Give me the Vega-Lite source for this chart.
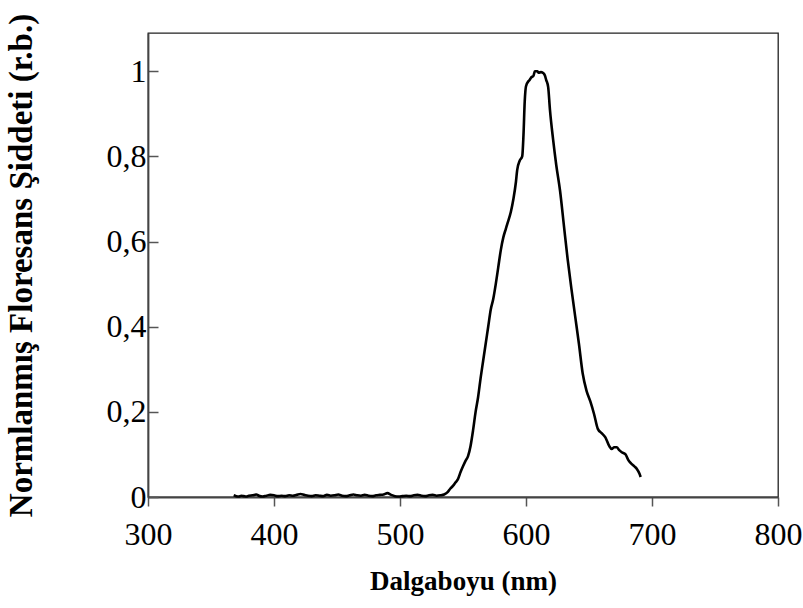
{
  "$schema": "https://vega.github.io/schema/vega-lite/v6.json",
  "width": 630,
  "height": 464,
  "autosize": {"type": "none"},
  "padding": {"left": 148, "top": 33, "right": 25, "bottom": 111},
  "background": "white",
  "config": {
    "view": {"stroke": "#222", "strokeWidth": 1.3},
    "font": "Liberation Serif",
    "axis": {
      "grid": false,
      "domainColor": "#444",
      "domainWidth": 1.8,
      "tickColor": "#555",
      "tickWidth": 1.5,
      "labelFont": "Liberation Serif",
      "labelFontSize": 32,
      "labelColor": "black",
      "titleFont": "Liberation Serif",
      "titleFontWeight": "bold",
      "titleColor": "black"
    }
  },
  "data": {"values": [
    {"nm": 368, "v": 0.004}, {"nm": 370, "v": 0.002}, {"nm": 372, "v": 0.001}, {"nm": 374, "v": 0.003},
    {"nm": 376, "v": 0.002}, {"nm": 378, "v": 0.001}, {"nm": 380, "v": 0.003}, {"nm": 383, "v": 0.004},
    {"nm": 386, "v": 0.006}, {"nm": 388, "v": 0.003}, {"nm": 391, "v": 0.001}, {"nm": 394, "v": 0.003},
    {"nm": 397, "v": 0.005}, {"nm": 400, "v": 0.004}, {"nm": 403, "v": 0.002}, {"nm": 406, "v": 0.003},
    {"nm": 409, "v": 0.002}, {"nm": 412, "v": 0.004}, {"nm": 415, "v": 0.003}, {"nm": 418, "v": 0.005},
    {"nm": 421, "v": 0.007}, {"nm": 424, "v": 0.005}, {"nm": 427, "v": 0.003}, {"nm": 430, "v": 0.002},
    {"nm": 433, "v": 0.004}, {"nm": 436, "v": 0.003}, {"nm": 439, "v": 0.002}, {"nm": 442, "v": 0.005},
    {"nm": 445, "v": 0.003}, {"nm": 448, "v": 0.004}, {"nm": 451, "v": 0.006}, {"nm": 454, "v": 0.003},
    {"nm": 457, "v": 0.002}, {"nm": 460, "v": 0.004}, {"nm": 463, "v": 0.006}, {"nm": 466, "v": 0.004},
    {"nm": 469, "v": 0.003}, {"nm": 472, "v": 0.005}, {"nm": 475, "v": 0.003}, {"nm": 478, "v": 0.002},
    {"nm": 481, "v": 0.004}, {"nm": 484, "v": 0.005}, {"nm": 487, "v": 0.006}, {"nm": 490, "v": 0.009},
    {"nm": 493, "v": 0.005}, {"nm": 496, "v": 0.002}, {"nm": 499, "v": 0.001}, {"nm": 502, "v": 0.002},
    {"nm": 505, "v": 0.003}, {"nm": 508, "v": 0.002}, {"nm": 511, "v": 0.004}, {"nm": 514, "v": 0.005},
    {"nm": 517, "v": 0.003}, {"nm": 520, "v": 0.002}, {"nm": 523, "v": 0.004}, {"nm": 526, "v": 0.005},
    {"nm": 529, "v": 0.003}, {"nm": 532, "v": 0.004}, {"nm": 535, "v": 0.006}, {"nm": 538, "v": 0.012},
    {"nm": 540, "v": 0.02}, {"nm": 542, "v": 0.026}, {"nm": 544, "v": 0.034}, {"nm": 546, "v": 0.042},
    {"nm": 548, "v": 0.058}, {"nm": 550, "v": 0.072}, {"nm": 552, "v": 0.085}, {"nm": 554, "v": 0.096},
    {"nm": 556, "v": 0.12}, {"nm": 558, "v": 0.157}, {"nm": 560, "v": 0.2}, {"nm": 562, "v": 0.235},
    {"nm": 564, "v": 0.28}, {"nm": 566, "v": 0.32}, {"nm": 568, "v": 0.36}, {"nm": 570, "v": 0.4},
    {"nm": 572, "v": 0.44}, {"nm": 574, "v": 0.465}, {"nm": 576, "v": 0.5}, {"nm": 578, "v": 0.54},
    {"nm": 580, "v": 0.58}, {"nm": 582, "v": 0.61}, {"nm": 584, "v": 0.63}, {"nm": 585, "v": 0.64},
    {"nm": 588, "v": 0.67}, {"nm": 590, "v": 0.7}, {"nm": 592, "v": 0.74}, {"nm": 593, "v": 0.768},
    {"nm": 595, "v": 0.79}, {"nm": 597, "v": 0.8}, {"nm": 598, "v": 0.85}, {"nm": 599, "v": 0.93},
    {"nm": 600, "v": 0.965}, {"nm": 602, "v": 0.977}, {"nm": 603, "v": 0.98}, {"nm": 604, "v": 0.985},
    {"nm": 606, "v": 0.99}, {"nm": 607, "v": 1.0}, {"nm": 609, "v": 1.0}, {"nm": 610, "v": 0.997},
    {"nm": 612, "v": 0.998}, {"nm": 614, "v": 0.995}, {"nm": 615, "v": 0.99}, {"nm": 616, "v": 0.98},
    {"nm": 617.6, "v": 0.963}, {"nm": 619, "v": 0.91}, {"nm": 621.5, "v": 0.84}, {"nm": 624, "v": 0.78},
    {"nm": 627, "v": 0.72}, {"nm": 630, "v": 0.64}, {"nm": 633, "v": 0.56}, {"nm": 636, "v": 0.49},
    {"nm": 639, "v": 0.425}, {"nm": 642, "v": 0.36}, {"nm": 645, "v": 0.29}, {"nm": 648, "v": 0.25},
    {"nm": 651, "v": 0.225}, {"nm": 654, "v": 0.195}, {"nm": 657, "v": 0.16}, {"nm": 660, "v": 0.15},
    {"nm": 663, "v": 0.14}, {"nm": 666, "v": 0.12}, {"nm": 668, "v": 0.113}, {"nm": 670, "v": 0.117},
    {"nm": 672, "v": 0.117}, {"nm": 674, "v": 0.11}, {"nm": 676, "v": 0.105}, {"nm": 679, "v": 0.1},
    {"nm": 681, "v": 0.088}, {"nm": 683, "v": 0.08}, {"nm": 686, "v": 0.072}, {"nm": 688, "v": 0.066},
    {"nm": 690, "v": 0.055}, {"nm": 691, "v": 0.047}
  ]},
  "mark": {"type": "line", "color": "black", "strokeWidth": 2.6, "interpolate": "monotone"},
  "encoding": {
    "x": {
      "field": "nm", "type": "quantitative",
      "scale": {"domain": [300, 800], "nice": false, "zero": false},
      "axis": {
        "title": "Dalgaboyu (nm)",
        "titleFontSize": 27,
        "values": [300, 400, 500, 600, 700, 800],
        "tickSize": 9,
        "labelPadding": 13,
        "titlePadding": 18,
        "labelFlush": false
      }
    },
    "y": {
      "field": "v", "type": "quantitative",
      "scale": {"domain": [0, 1.09], "nice": false},
      "axis": {
        "title": "Normlanmış Floresans Şiddeti (r.b.)",
        "titleFontSize": 33,
        "values": [0, 0.2, 0.4, 0.6, 0.8, 1],
        "labelExpr": "replace(format(datum.value, '.1~f'), '.', ',')",
        "tickSize": -10,
        "labelPadding": 12,
        "titlePadding": 68,
        "labelFlush": false
      }
    }
  }
}
